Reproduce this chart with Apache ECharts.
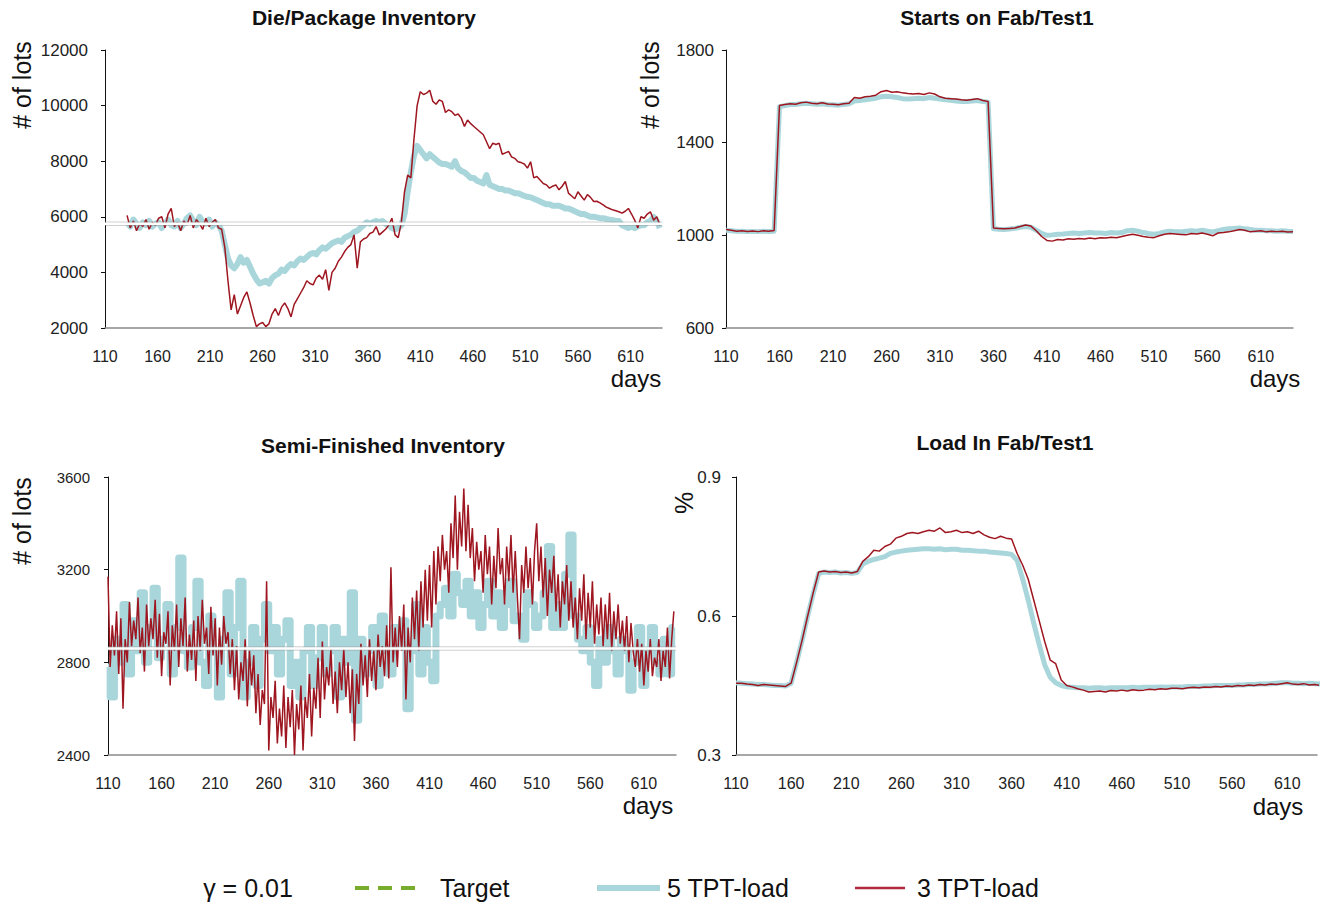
<!DOCTYPE html>
<html><head><meta charset="utf-8">
<script src="https://cdn.jsdelivr.net/npm/echarts@6/dist/echarts.min.js"></script>
<style>html,body{margin:0;padding:0;background:#fff}#c{width:1320px;height:908px}</style>
</head><body><div id="c"></div>
<script>
// ---------- data ----------
const xTicks = [110,160,210,260,310,360,410,460,510,560,610];
const xMin = 110;

// Die/Package Inventory (every 3 days from day 131)
const dieStart = 131, dieStep = 3;
const die5TPT = [
5800,5650,5900,5750,5600,5800,5700,5850,5650,5750,
5800,5600,5750,5900,5700,5650,5850,5600,5750,5950,
6050,5850,5700,6000,5800,5750,5900,5650,5800,5700,
5500,5000,4500,4250,4150,4300,4550,4350,4450,4200,
3950,3750,3600,3650,3700,3600,3800,3900,3950,4100,
4050,4200,4300,4250,4400,4500,4450,4550,4650,4700,
4650,4800,4900,4850,4950,5050,5100,5150,5100,5250,
5300,5350,5450,5500,5600,5700,5800,5750,5800,5850,
5800,5850,5750,5700,5600,5550,5600,5700,6100,6900,
7600,8200,8550,8400,8250,8100,8250,8150,8050,7950,
7900,7900,7850,7800,8000,7750,7650,7600,7500,7400,
7400,7300,7250,7200,7500,7150,7100,7050,7000,7000,
6950,6950,6900,6850,6850,6800,6750,6720,6700,6650,
6600,6550,6500,6450,6450,6400,6400,6400,6350,6300,
6300,6250,6200,6150,6100,6100,6050,6000,6000,5980,
5950,5950,5920,5900,5880,5850,5850,5700,5650,5600,
5650,5600,5650,5700,5700,5800,5850,6000,5850,5600];
const die3TPT = [
6050,5600,5850,5500,5750,5650,5900,5550,5800,5700,
5950,6000,5600,6100,6300,5650,5800,5500,5850,5700,
6050,5600,5900,5750,5550,5950,5650,5800,5900,5600,
5550,4900,3700,2650,3200,2500,2800,3100,3300,2900,
2450,2050,2150,2200,2050,2150,2500,2700,2450,2750,
2900,2700,2400,2850,3050,3250,3450,3700,3600,3550,
3800,3900,3750,4100,3350,4000,4150,4400,4550,4750,
4900,5000,5350,4150,5100,5200,5250,5400,5450,5650,
5350,5450,5550,5700,5950,5350,5250,5800,6900,7500,
7400,8800,10000,10500,10400,10450,10550,10150,10050,10200,
10150,9750,9850,9780,9650,9700,9550,9250,9480,9350,
9250,9150,9050,8950,8700,8450,8650,8600,8650,8250,
8300,8350,8150,8100,7980,7950,7900,7750,7980,7400,
7450,7320,7200,7150,7030,7100,7150,6970,7100,7270,
6850,6750,6650,6900,6750,6600,6800,6700,6550,6560,
6500,6430,6350,6300,6250,6220,6180,6130,6200,6300,
6100,5880,5600,6000,5950,6100,6180,5880,6000,5700];
const dieTarget = 5750;

// Starts on Fab/Test1 (every 5 days from day 110)
const startsStart = 110, startsStep = 5;
const starts5TPT = [
1022,1020,1018,1018,1016,1017,1016,1018,1017,1018,
1555,1560,1565,1565,1568,1570,1568,1566,1568,1565,
1564,1562,1565,1568,1580,1582,1585,1588,1592,1598,
1600,1598,1595,1590,1588,1590,1592,1590,1595,1592,
1588,1585,1583,1580,1578,1578,1580,1582,1578,1575,
1028,1026,1025,1027,1030,1035,1038,1035,1022,1008,
1000,1002,1005,1006,1008,1010,1008,1010,1012,1010,
1010,1008,1012,1010,1012,1020,1022,1018,1012,1008,
1005,1008,1015,1018,1016,1015,1018,1020,1018,1022,
1018,1015,1020,1025,1028,1030,1032,1028,1025,1022,
1022,1020,1020,1018,1020,1018,1017];
const starts3TPT = [
1025,1022,1018,1020,1017,1019,1016,1020,1018,1021,
1560,1565,1568,1566,1572,1575,1570,1568,1572,1567,
1566,1564,1568,1570,1595,1592,1598,1600,1605,1620,
1625,1618,1620,1615,1612,1610,1612,1608,1615,1610,
1598,1592,1590,1588,1585,1583,1586,1590,1582,1578,
1032,1030,1028,1030,1032,1038,1045,1040,1020,995,
978,975,982,980,985,983,986,984,988,985,
990,988,992,990,995,1000,1005,1000,995,992,
990,998,1005,1008,1006,1004,1002,1008,1006,1010,
1005,998,1010,1012,1015,1020,1025,1022,1015,1018,
1020,1015,1018,1016,1018,1014,1015];

// Semi-Finished Inventory
const semi3Start = 110, semi3Step = 2;
const semi3TPT = [
3170,2780,2960,2830,3020,2750,2990,2600,2900,2800,
3060,2870,2980,2900,3080,2840,2950,2760,3050,2870,
2990,2900,3070,2820,3010,2740,2930,2880,3020,2700,
2960,2850,3050,2780,2990,2870,3080,2760,2920,2810,
2980,2720,3000,2850,3070,2880,2950,2750,3040,2830,
2990,2700,2950,2790,3000,2880,2930,2750,2900,2680,
2870,2640,2800,2720,2900,2610,2850,2700,2830,2580,
2750,2530,2680,2620,3150,2420,2650,2560,2720,2450,
2600,2480,2700,2430,2650,2520,2680,2400,2620,2510,
2700,2420,2650,2560,2750,2480,2690,2600,2820,2560,
2890,2640,2780,2700,2860,2620,2760,2580,2800,2680,
2860,2650,2800,2580,2770,2460,2750,2620,2880,2700,
2830,2650,2900,2720,2850,2680,2920,2780,2870,2740,
2960,2730,3210,2800,2950,2780,3000,2850,3050,2640,
2950,2800,3080,2900,3110,2850,3150,2950,3200,2980,
3220,2950,3280,3050,3300,3150,3350,3200,3280,3100,
3400,3250,3520,3200,3450,3300,3550,3280,3480,3250,
3380,3150,3320,3200,3280,3100,3350,3180,3300,3050,
3260,3120,3380,3180,3250,3050,3300,3150,3350,3100,
3280,3080,2900,3220,3100,3300,3120,3250,3050,3280,
3400,3150,3300,3080,3250,3000,3200,3100,3260,3020,
3180,2950,3150,3050,3220,2980,3150,2950,3080,2900,
3120,2980,3180,2900,3100,2950,3150,2880,3050,2920,
3080,2870,3050,2900,3100,2850,3020,2900,3050,2880,
2980,2850,3000,2800,2970,2850,2780,2900,2760,2880,
2700,2850,2760,2900,2740,2820,2780,2900,2720,2850,
2780,2950,2730,2900,3020];
const semi5Start = 110, semi5Step = 4;
const semi5TPT = [
2780,2650,2900,2800,3050,2750,2980,2850,3100,2800,
2950,3120,2820,2900,3050,2750,2950,3250,2850,2780,
2950,3150,2800,2700,3000,2850,2650,2900,3100,2750,
2950,3150,2650,2800,2950,2700,2900,3050,2850,2950,
2750,2900,2980,2700,2800,2650,2850,2950,2700,2820,
2950,2750,2850,2950,2650,2900,2800,3100,2550,2900,
2750,2850,2950,2700,3000,2850,2750,2950,2880,2980,
2600,2850,3050,2750,2950,2800,2720,3000,3050,3120,
3000,3180,3100,3050,3150,3000,3100,2950,3050,3150,
3000,3100,2950,3050,3150,2980,3000,2900,3100,3050,
2950,3000,3100,3300,2950,3050,2950,3180,3350,3000,
2900,2850,2950,2800,2700,2900,2800,2950,2850,2750,
2900,2850,2680,2800,2950,2700,2850,2950,2800,2750,
2900,2750,2950];
const semiTarget = 2860;

// Load In Fab/Test1 (every 5 days from day 110)
const loadStart = 110, loadStep = 5;
const load5TPT = [
0.456,0.455,0.454,0.453,0.452,0.452,0.451,0.450,0.450,0.449,
0.455,0.500,0.548,0.600,0.648,0.692,0.695,0.694,0.695,0.693,
0.694,0.692,0.694,0.712,0.718,0.722,0.725,0.728,0.735,0.738,
0.740,0.742,0.743,0.744,0.745,0.745,0.744,0.745,0.743,0.744,
0.744,0.742,0.742,0.741,0.740,0.740,0.738,0.737,0.736,0.735,
0.733,0.720,0.680,0.635,0.585,0.538,0.495,0.468,0.456,0.450,
0.447,0.446,0.445,0.445,0.444,0.445,0.445,0.444,0.445,0.445,
0.445,0.445,0.446,0.445,0.446,0.446,0.446,0.447,0.446,0.447,
0.447,0.447,0.448,0.448,0.448,0.449,0.449,0.450,0.450,0.450,
0.450,0.451,0.451,0.452,0.452,0.453,0.453,0.454,0.455,0.456,
0.456,0.455,0.455,0.454,0.455,0.454,0.453];
const load3TPT = [
0.455,0.455,0.453,0.452,0.450,0.452,0.451,0.450,0.449,0.448,
0.455,0.500,0.548,0.600,0.650,0.695,0.697,0.695,0.696,0.694,
0.695,0.693,0.696,0.718,0.728,0.742,0.740,0.750,0.755,0.768,
0.772,0.778,0.780,0.778,0.782,0.785,0.783,0.790,0.780,0.782,
0.785,0.780,0.782,0.778,0.783,0.775,0.770,0.767,0.772,0.768,
0.766,0.735,0.710,0.680,0.635,0.590,0.545,0.505,0.497,0.462,
0.450,0.447,0.443,0.440,0.436,0.437,0.438,0.436,0.439,0.438,
0.440,0.438,0.441,0.439,0.440,0.442,0.441,0.443,0.442,0.444,
0.444,0.443,0.445,0.446,0.445,0.447,0.446,0.448,0.447,0.449,
0.448,0.450,0.449,0.451,0.450,0.452,0.451,0.453,0.452,0.454,
0.456,0.453,0.452,0.454,0.451,0.452,0.450];

const dieYTicks = [2000,4000,6000,8000,10000,12000];
const startsYTicks = [600,1000,1400,1800];
const semiYTicks = [2400,2800,3200,3600];
const loadYTicks = [0.3,0.6,0.9];

const legendNames = ['Target', '5 TPT-load', '3 TPT-load'];
const gammaLabel = 'γ = 0.01';

// ---------- styling ----------
const FONT = "'Liberation Sans', Arial, sans-serif";
const TEAL = '#A9D6DB';
const RED = '#9E1620';
const LEG_RED = '#B5283C';
const GREEN = '#78AC2C';

function pairs(start, step, vals) { return vals.map((v, i) => [start + i * step, v]); }

const grids = [
  {left: 105, top: 50, width: 557, height: 278},
  {left: 726, top: 50, width: 567, height: 278},
  {left: 108, top: 477, width: 568, height: 278},
  {left: 736, top: 477, width: 581, height: 278}
];
const xMax = [640, 640, 640, 637];
const yCfg = [
  {min: 2000, max: 12000, ticks: dieYTicks, size: 17, margin: 17},
  {min: 600, max: 1800, ticks: startsYTicks, size: 17, margin: 12},
  {min: 2400, max: 3600, ticks: semiYTicks, size: 15, margin: 18},
  {min: 0.3, max: 0.9, ticks: loadYTicks, size: 17, margin: 15}
];

const xAxes = grids.map((g, i) => ({
  type: 'value', gridIndex: i, min: xMin, max: xMax[i],
  axisLine: {show: true, lineStyle: {color: '#8a8a8a', width: 1.5}},
  axisTick: {show: false}, splitLine: {show: false},
  axisLabel: {customValues: xTicks, margin: 20, fontSize: 16, color: '#222', fontFamily: FONT}
}));
const yAxes = yCfg.map((c, i) => ({
  type: 'value', gridIndex: i, min: c.min, max: c.max,
  axisLine: {show: true, lineStyle: {color: '#111', width: 1}},
  axisTick: {show: true, length: 4, customValues: c.ticks, lineStyle: {color: '#111'}},
  splitLine: {show: false},
  axisLabel: {customValues: c.ticks, margin: c.margin, fontSize: c.size, color: '#222', fontFamily: FONT,
    formatter: v => String(v)}
}));

function tealS(i, data, w, step) {
  return {name: legendNames[1], type: 'line', xAxisIndex: i, yAxisIndex: i, data: data,
    symbol: 'none', showSymbol: false, step: step || false, z: 2, silent: true,
    lineStyle: {color: TEAL, width: w, join: 'round'}, itemStyle: {color: TEAL}};
}
function redS(i, data) {
  return {name: legendNames[2], type: 'line', xAxisIndex: i, yAxisIndex: i, data: data,
    symbol: 'none', showSymbol: false, z: 3, silent: true,
    lineStyle: {color: RED, width: 1.5}, itemStyle: {color: RED}};
}
// target (drawn white in the plots, as in the reference) across the axis range
function targetS(i, v) {
  return [
    {name: legendNames[0], type: 'line', xAxisIndex: i, yAxisIndex: i, data: [[xMin, v], [xMax[i], v]], symbol: 'none', silent: true, z: 4,
     lineStyle: {color: 'rgba(150,150,150,0.45)', width: 4.5}},
    {name: legendNames[0], type: 'line', xAxisIndex: i, yAxisIndex: i, data: [[xMin, v], [xMax[i], v]], symbol: 'none', silent: true, z: 5,
     lineStyle: {color: '#ffffff', width: 2.5}}
  ];
}

const series = [
  tealS(0, pairs(dieStart, dieStep, die5TPT), 6),
  redS(0, pairs(dieStart, dieStep, die3TPT)),
  ...targetS(0, dieTarget),
  tealS(1, pairs(startsStart, startsStep, starts5TPT), 5),
  redS(1, pairs(startsStart, startsStep, starts3TPT)),
  tealS(2, pairs(semi5Start, semi5Step, semi5TPT), 7, 'middle'),
  redS(2, pairs(semi3Start, semi3Step, semi3TPT)),
  ...targetS(2, semiTarget),
  tealS(3, pairs(loadStart, loadStep, load5TPT), 5),
  redS(3, pairs(loadStart, loadStep, load3TPT))
];

const titleTxt = {fontSize: 21, fontWeight: 'bold', color: '#111', fontFamily: FONT};
const titles = [
  {text: 'Die/Package Inventory', left: 364, top: 7},
  {text: 'Starts on Fab/Test1', left: 997, top: 7},
  {text: 'Semi-Finished Inventory', left: 383, top: 435},
  {text: 'Load In Fab/Test1', left: 1005, top: 432}
].map(t => Object.assign(t, {textAlign: 'center', textStyle: titleTxt, padding: 0}));

function txt(x, y, s, size, rot, align) {
  return {type: 'text', x: x, y: y, rotation: rot || 0, silent: true,
    style: {text: s, fill: '#111', font: size + 'px ' + FONT, align: align || 'center', verticalAlign: 'middle'}};
}
function seg(x1, x2, y, color, w, dash) {
  return {type: 'line', silent: true, shape: {x1: x1, y1: y, x2: x2, y2: y},
    style: {stroke: color, lineWidth: w, lineDash: dash || null}};
}
const LEG_Y = 888;
const graphics = [
  txt(22, 85, '# of lots', 25, Math.PI / 2),
  txt(650, 85, '# of lots', 25, Math.PI / 2),
  txt(22, 521, '# of lots', 25, Math.PI / 2),
  txt(684, 503, '%', 25, Math.PI / 2),
  txt(636, 378, 'days', 24),
  txt(1275, 378, 'days', 24),
  txt(648, 805, 'days', 24),
  txt(1278, 806, 'days', 24),
  // legend
  txt(248, LEG_Y, gammaLabel, 25),
  seg(355, 415, LEG_Y, GREEN, 4, [14, 9]),
  txt(440, LEG_Y, legendNames[0], 25, 0, 'left'),
  seg(597, 660, LEG_Y, TEAL, 6),
  txt(667, LEG_Y, legendNames[1], 25, 0, 'left'),
  seg(855, 905, LEG_Y, LEG_RED, 2.5),
  txt(917, LEG_Y, legendNames[2], 25, 0, 'left')
];

const chart = echarts.init(document.getElementById('c'), null, {renderer: 'svg'});
chart.setOption({
  animation: false,
  backgroundColor: '#ffffff',
  title: titles,
  grid: grids,
  xAxis: xAxes,
  yAxis: yAxes,
  series: series,
  graphic: graphics
});
</script></body></html>
